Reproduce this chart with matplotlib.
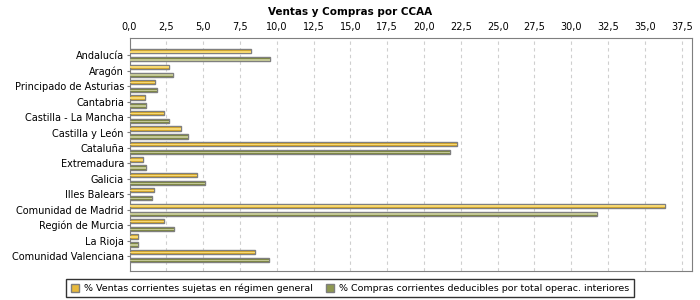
## Import libraries
import numpy as np
import matplotlib.pyplot as plt
from matplotlib.patches import Patch
from matplotlib.ticker import FuncFormatter

## Data
regions = ['Andalucía', 'Aragón', 'Principado de Asturias', 'Cantabria',
           'Castilla - La Mancha', 'Castilla y León', 'Cataluña', 'Extremadura',
           'Galicia', 'Illes Balears', 'Comunidad de Madrid', 'Región de Murcia',
           'La Rioja', 'Comunidad Valenciana']
ventas = [8.27, 2.71, 1.76, 1.02, 2.31, 3.53, 22.24, 0.95, 4.61, 1.63, 36.34, 2.31, 0.57, 8.50]
compras = [9.56, 2.98, 1.90, 1.11, 2.71, 3.96, 21.76, 1.15, 5.15, 1.56, 31.73, 3.01, 0.57, 9.45]
series_names = ['% Ventas corrientes sujetas en régimen general',
                '% Compras corrientes deducibles por total operac. interiores']

## Figure
fig = plt.figure(figsize=(7, 3), dpi=100)
ax = fig.add_axes([0.185, 0.0967, 0.8036, 0.7766])

y = np.arange(len(regions))
off = 0.26
h = 0.28

## Bars (base colour + lighter stripe for the gradient look)
ax.barh(y - off, ventas, height=h, color='#E2AE1E', edgecolor='#7f7f7f', linewidth=1, zorder=3)
ax.barh(y - off + 0.03, ventas, height=h * 0.35, color='#F6D873', linewidth=0, zorder=4)
ax.barh(y + off, compras, height=h, color='#7E8A3A', edgecolor='#7f7f7f', linewidth=1, zorder=3)
ax.barh(y + off + 0.03, compras, height=h * 0.35, color='#C3C795', linewidth=0, zorder=4)

## Axes styling
ax.set_xlim(0, 38.2)
ax.set_ylim(13.97, -1.12)
ax.set_xticks(np.arange(0, 37.6, 2.5))
ax.xaxis.set_major_formatter(FuncFormatter(lambda v, p: '{:.1f}'.format(v).replace('.', ',')))
ax.xaxis.tick_top()
ax.set_yticks(y)
ax.set_yticklabels(regions)
ax.tick_params(axis='both', labelsize=7, length=2, color='#7f7f7f', pad=2)
ax.tick_params(axis='x', length=0, pad=4)
ax.grid(axis='x', color='#cfcfcf', linestyle=(0, (3, 3)), linewidth=0.8, zorder=0)
for s in ax.spines.values():
    s.set_color('#7f7f7f')

## Title
fig.text(0.5, 0.978, 'Ventas y Compras por CCAA', ha='center', va='top',
         fontsize=7.5, fontweight='bold')

## Legend
handles = [Patch(facecolor='#E8B93A', edgecolor='#7f7f7f'),
           Patch(facecolor='#8E9850', edgecolor='#7f7f7f')]
leg = fig.legend(handles, series_names, loc='lower center', bbox_to_anchor=(0.5, 0.0),
                 ncol=2, fontsize=6.8, frameon=True, fancybox=False, handlelength=0.9,
                 handleheight=0.9, handletextpad=0.5, columnspacing=1.4,
                 borderpad=0.45, borderaxespad=0.3)
leg.get_frame().set_edgecolor('black')
leg.get_frame().set_linewidth(1)

plt.savefig('out.png', dpi=100)
